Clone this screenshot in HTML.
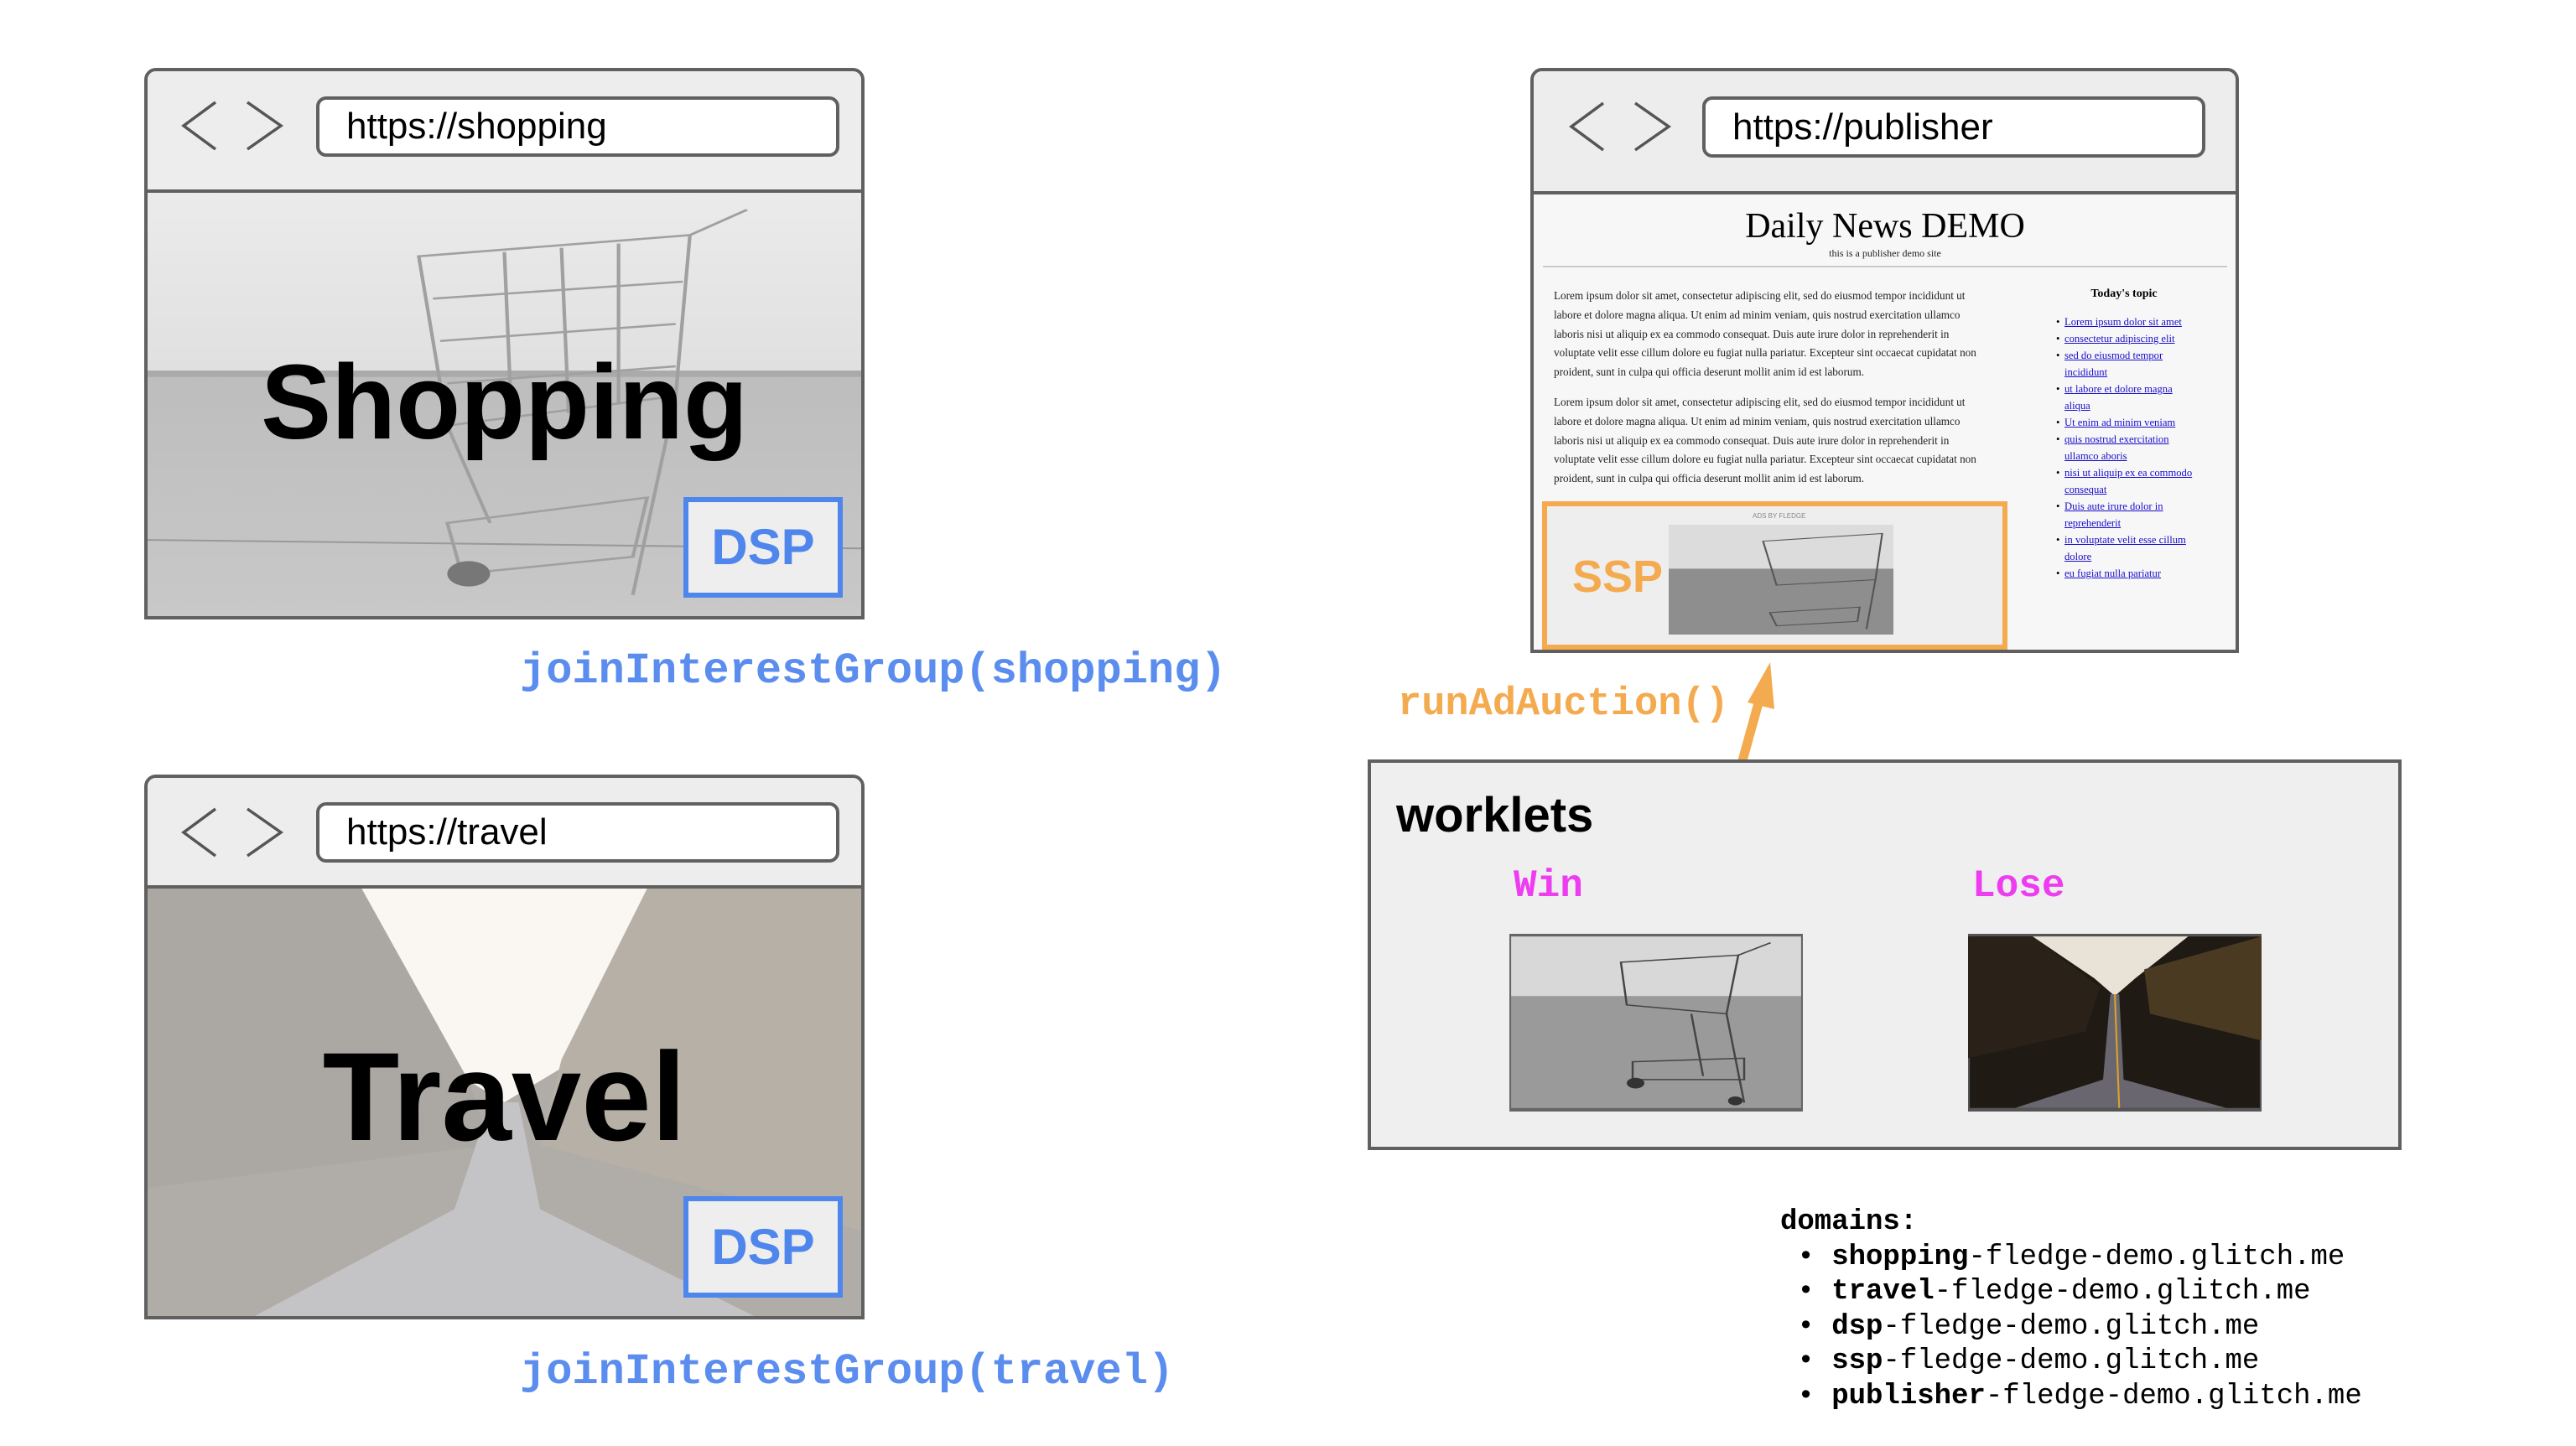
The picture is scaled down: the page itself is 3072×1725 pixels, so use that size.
<!DOCTYPE html>
<html><head><meta charset="utf-8"><style>
*{margin:0;padding:0;box-sizing:border-box}
body{width:3072px;height:1725px;background:#fff;position:relative;overflow:hidden;font-family:"Liberation Sans",sans-serif}
.a{position:absolute}
.br{position:absolute;border:4px solid #606060;border-radius:14px 14px 0 0;background:#ededed;overflow:hidden}
.tb{position:absolute;left:0;right:0;top:0;border-bottom:4px solid #606060;background:#ededed}
.url{position:absolute;background:#fff;border:4px solid #606060;border-radius:12px;font-size:44px;line-height:64px;padding-left:32px;color:#000}
.mono{font-family:"Liberation Mono",monospace;font-weight:bold}
.dsp{position:absolute;border:6px solid #4f86ec;background:#eeeeee;color:#4f86ec;font-weight:bold;font-size:60px;text-align:center}
.body p{font-family:"Liberation Serif",serif;font-size:13.2px;line-height:22.8px;color:#222;white-space:nowrap}
.side li{font-family:"Liberation Serif",serif;font-size:12.6px;line-height:20px;color:#1a0dcc;text-decoration:underline;white-space:nowrap;list-style:none;position:relative}
.side li:before{content:"•";position:absolute;left:-10px;color:#000;text-decoration:none}
</style></head><body>

<svg width="0" height="0" style="position:absolute">
<defs>
<linearGradient id="sky" x1="0" y1="0" x2="0" y2="1"><stop offset="0" stop-color="#ebebeb"/><stop offset="1" stop-color="#e0e0e0"/></linearGradient>
<linearGradient id="gnd" x1="0" y1="0" x2="0" y2="1"><stop offset="0" stop-color="#bdbdbd"/><stop offset="1" stop-color="#c8c8c8"/></linearGradient>
</defs></svg>

<!-- Shopping browser -->
<div class="br" style="left:172px;top:81px;width:859px;height:658px">
  <div class="tb" style="height:145px"></div>
  <svg class="a" style="left:0;top:145px" width="851" height="505" viewBox="0 0 100 100" preserveAspectRatio="none">
    <rect width="100" height="42" fill="url(#sky)"/>
    <rect y="42" width="100" height="58" fill="url(#gnd)"/>
    <rect y="42" width="100" height="1.5" fill="#aaa"/>
    <line x1="0" y1="82" x2="100" y2="84" stroke="#999" stroke-width="0.4"/>
    <g fill="none" stroke="#a0a0a0" stroke-width="0.5">
      <polygon points="38,15 76,10 74,48 42,55"/>
      <line x1="40" y1="25" x2="75" y2="21"/><line x1="41" y1="35" x2="74" y2="31"/><line x1="42" y1="45" x2="74" y2="41"/>
      <line x1="50" y1="14" x2="51" y2="53"/><line x1="58" y1="13" x2="59" y2="52"/><line x1="66" y1="12" x2="66" y2="50"/>
      <line x1="76" y1="10" x2="84" y2="4"/><line x1="74" y1="48" x2="68" y2="95"/><line x1="42" y1="55" x2="48" y2="78"/>
      <polygon points="42,78 70,72 68,86 44,90"/>
    </g>
    <circle cx="45" cy="90" r="3" fill="#777"/>
  </svg>
  <div class="a" style="left:0;width:851px;top:325px;text-align:center;font-weight:bold;font-size:126px;line-height:140px;color:#000">Shopping</div>
</div>
<div class="url" style="left:377px;top:115px;width:624px;height:72px">https://shopping</div>
<svg class="a" style="left:205px;top:118px" width="150" height="64"><polyline points="52,4 14,32 52,60" fill="none" stroke="#555" stroke-width="3.5"/><polyline points="90,4 130,32 90,60" fill="none" stroke="#555" stroke-width="3.5"/></svg>
<div class="dsp" style="left:815px;top:593px;width:190px;height:120px;line-height:108px">DSP</div>
<div class="a mono" style="left:620px;top:770px;font-size:52px;line-height:62px;color:#5b8def;white-space:nowrap">joinInterestGroup(shopping)</div>

<!-- Travel browser -->
<div class="br" style="left:172px;top:924px;width:859px;height:650px">
  <div class="tb" style="height:132px"></div>
  <svg class="a" style="left:0;top:132px" width="851" height="510" viewBox="0 0 100 100" preserveAspectRatio="none">
    <rect width="100" height="100" fill="#3a3024"/>
    <polygon points="30,0 70,0 60,40 50,50 40,40" fill="#f2ece2"/>
    <polygon points="0,0 30,0 45,45 48,60 0,70" fill="#2d2418"/>
    <polygon points="70,0 100,0 100,80 55,60 58,40" fill="#4a3a22"/>
    <polygon points="48,50 52,50 55,75 85,100 15,100 43,75" fill="#6c6a70"/>
    <rect width="100" height="100" fill="#fff" opacity="0.6"/>
  </svg>
  <div class="a" style="left:0;width:851px;top:300px;text-align:center;font-weight:bold;font-size:150px;line-height:160px;color:#000">Travel</div>
</div>
<div class="url" style="left:377px;top:957px;width:624px;height:72px">https://travel</div>
<svg class="a" style="left:205px;top:961px" width="150" height="64"><polyline points="52,4 14,32 52,60" fill="none" stroke="#555" stroke-width="3.5"/><polyline points="90,4 130,32 90,60" fill="none" stroke="#555" stroke-width="3.5"/></svg>
<div class="dsp" style="left:815px;top:1427px;width:190px;height:121px;line-height:109px">DSP</div>
<div class="a mono" style="left:620px;top:1606px;font-size:52px;line-height:62px;color:#5b8def;white-space:nowrap">joinInterestGroup(travel)</div>

<!-- Publisher browser -->
<div class="br" style="left:1825px;top:81px;width:845px;height:698px;background:#f7f7f7">
  <div class="tb" style="height:147px"></div>
</div>
<div class="url" style="left:2030px;top:115px;width:600px;height:73px;line-height:65px">https://publisher</div>
<svg class="a" style="left:1860px;top:119px" width="150" height="64"><polyline points="52,4 14,32 52,60" fill="none" stroke="#555" stroke-width="3.5"/><polyline points="90,4 130,32 90,60" fill="none" stroke="#555" stroke-width="3.5"/></svg>
<div class="a" style="left:1840px;width:816px;top:244px;text-align:center;font-family:'Liberation Serif',serif;font-size:42px;line-height:52px;color:#000">Daily News DEMO</div>
<div class="a" style="left:1840px;width:816px;top:295px;text-align:center;font-family:'Liberation Serif',serif;font-size:12px;line-height:14px;color:#222">this is a publisher demo site</div>
<div class="a" style="left:1840px;top:317px;width:816px;height:2px;background:#ccc"></div>
<div class="a body" style="left:1853px;top:342px">
<p>Lorem ipsum dolor sit amet, consectetur adipiscing elit, sed do eiusmod tempor incididunt ut</p>
<p>labore et dolore magna aliqua. Ut enim ad minim veniam, quis nostrud exercitation ullamco</p>
<p>laboris nisi ut aliquip ex ea commodo consequat. Duis aute irure dolor in reprehenderit in</p>
<p>voluptate velit esse cillum dolore eu fugiat nulla pariatur. Excepteur sint occaecat cupidatat non</p>
<p>proident, sunt in culpa qui officia deserunt mollit anim id est laborum.</p>
</div>
<div class="a body" style="left:1853px;top:469px">
<p>Lorem ipsum dolor sit amet, consectetur adipiscing elit, sed do eiusmod tempor incididunt ut</p>
<p>labore et dolore magna aliqua. Ut enim ad minim veniam, quis nostrud exercitation ullamco</p>
<p>laboris nisi ut aliquip ex ea commodo consequat. Duis aute irure dolor in reprehenderit in</p>
<p>voluptate velit esse cillum dolore eu fugiat nulla pariatur. Excepteur sint occaecat cupidatat non</p>
<p>proident, sunt in culpa qui officia deserunt mollit anim id est laborum.</p>
</div>
<div class="a" style="left:2440px;width:186px;top:341px;text-align:center;font-family:'Liberation Serif',serif;font-weight:bold;font-size:14px;line-height:20px">Today's topic</div>
<ul class="a side" style="left:2462px;top:374px">
<li>Lorem ipsum dolor sit amet</li><li>consectetur adipiscing elit</li><li>sed do eiusmod tempor</li><li>incididunt</li><li>ut labore et dolore magna</li><li>aliqua</li><li>Ut enim ad minim veniam</li><li>quis nostrud exercitation</li><li>ullamco aboris</li><li>nisi ut aliquip ex ea commodo</li><li>consequat</li><li>Duis aute irure dolor in</li><li>reprehenderit</li><li>in voluptate velit esse cillum</li><li>dolore</li><li>eu fugiat nulla pariatur</li>
</ul>
<style>.side li:nth-child(4):before,.side li:nth-child(6):before,.side li:nth-child(9):before,.side li:nth-child(11):before,.side li:nth-child(13):before,.side li:nth-child(15):before{content:""}</style>
<div class="a" style="left:1839px;top:598px;width:555px;height:177px;border:6px solid #f4ab4f;background:#eeeeee"></div>
<div class="a" style="left:1875px;top:655px;font-weight:bold;font-size:54px;line-height:66px;color:#f4ab4f">SSP</div>
<div class="a" style="left:2090px;top:611px;font-size:8px;color:#888">ADS BY FLEDGE</div>
<svg class="a" style="left:1990px;top:626px" width="268" height="131" viewBox="0 0 100 100" preserveAspectRatio="none">
  <rect width="100" height="40" fill="#dcdcdc"/><rect y="40" width="100" height="60" fill="#8e8e8e"/>
  <g fill="none" stroke="#555" stroke-width="0.8"><polygon points="42,15 95,8 92,50 48,55"/><line x1="92" y1="50" x2="88" y2="95"/><polygon points="45,80 85,75 84,88 48,92"/></g>
</svg>

<!-- arrow & runAdAuction -->
<svg class="a" style="left:0;top:0" width="3072" height="1725">
  <line x1="2024" y1="1102" x2="2100" y2="828" stroke="#f4ab4f" stroke-width="11"/>
  <polygon points="2111,790 2084,838 2116,846" fill="#f4ab4f"/>
</svg>
<div class="a mono" style="left:1667px;top:812px;font-size:47px;line-height:58px;color:#f4ab4f;white-space:nowrap">runAdAuction()</div>

<!-- worklets -->
<div class="a" style="left:1631px;top:906px;width:1233px;height:466px;background:#efefef;border:4px solid #606060"></div>
<div class="a" style="left:1665px;top:940px;font-weight:bold;font-size:58px;line-height:66px;color:#000">worklets</div>
<div class="a mono" style="left:1805px;top:1030px;font-size:46px;line-height:54px;color:#ee3cf0">Win</div>
<div class="a mono" style="left:2352px;top:1030px;font-size:46px;line-height:54px;color:#ee3cf0">Lose</div>
<svg class="a" style="left:1800px;top:1114px" width="350" height="212" viewBox="0 0 100 100" preserveAspectRatio="none">
  <rect width="100" height="100" fill="#666"/>
  <rect x="0.6" y="1.5" width="98.8" height="34" fill="#d8d8d8"/><rect x="0.6" y="35" width="98.8" height="63" fill="#9a9a9a"/>
  <g fill="none" stroke="#444" stroke-width="0.7"><polygon points="38,16 78,12 74,45 40,40"/><line x1="78" y1="12" x2="89" y2="5"/><line x1="74" y1="45" x2="80" y2="95"/><line x1="62" y1="45" x2="66" y2="80"/><polygon points="42,72 80,70 80,82 42,82"/></g>
  <circle cx="43" cy="84" r="3" fill="#333"/><circle cx="77" cy="94" r="2.5" fill="#333"/>
</svg>
<svg class="a" style="left:2347px;top:1114px" width="350" height="212" viewBox="0 0 100 100" preserveAspectRatio="none">
  <rect width="100" height="100" fill="#555"/>
  <rect x="0.6" y="1.5" width="98.8" height="96.5" fill="#1f1a14"/>
  <polygon points="22,1.5 75,1.5 57,25 50,35 43,25" fill="#e9e2d6"/>
  <polygon points="60,20 100,1.5 100,60 62,45" fill="#4a3a22"/>
  <polygon points="0,1.5 22,1.5 45,30 40,55 0,70" fill="#2a2118"/>
  <polygon points="48.5,34 51.5,34 53,82 88,98 16,98 46,82" fill="#6a6670"/>
  <line x1="50" y1="34" x2="51.5" y2="98" stroke="#d9a32a" stroke-width="0.6"/>
</svg>

<!-- domains -->
<div class="a" style="left:2123px;top:1438px;font-family:'Liberation Mono',monospace;font-size:34px;line-height:41.6px;color:#000;white-space:pre"><b>domains:</b>
 • <b>shopping</b>-fledge-demo.glitch.me
 • <b>travel</b>-fledge-demo.glitch.me
 • <b>dsp</b>-fledge-demo.glitch.me
 • <b>ssp</b>-fledge-demo.glitch.me
 • <b>publisher</b>-fledge-demo.glitch.me</div>

</body></html>
